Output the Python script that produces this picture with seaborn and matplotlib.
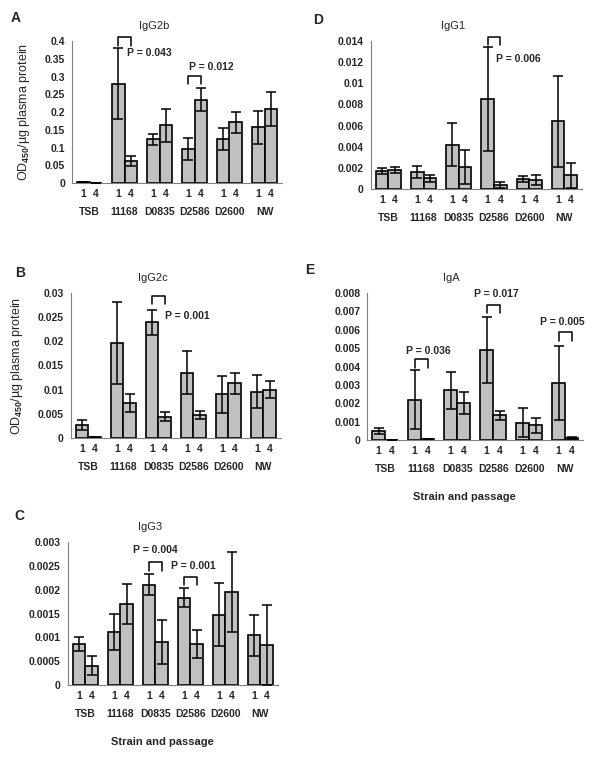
import matplotlib
matplotlib.use("Agg")
import matplotlib.pyplot as plt
import pandas as pd
import seaborn as sns
from matplotlib.ticker import MultipleLocator, FuncFormatter

sns.set_style("white")
plt.rcParams['font.family'] = ['Liberation Sans', 'DejaVu Sans']
plt.rcParams['font.weight'] = 'bold'
plt.rcParams['mathtext.fontset'] = 'custom'
plt.rcParams['mathtext.rm'] = 'Liberation Sans:bold'
plt.rcParams['mathtext.default'] = 'rm'

strains = ['TSB', '11168', 'D0835', 'D2586', 'D2600', 'NW']
passages = ['1', '4']

# IgG2b (A)
igg2b_p1 = [0.003, 0.28, 0.123, 0.097, 0.124, 0.157]
igg2b_p1_err = [0.001, 0.1, 0.016, 0.031, 0.03, 0.046]
igg2b_p4 = [0.001, 0.062, 0.163, 0.235, 0.171, 0.209]
igg2b_p4_err = [0.0, 0.014, 0.046, 0.032, 0.029, 0.047]

# IgG1 (D)
igg1_p1 = [0.0017, 0.0016, 0.0042, 0.0085, 0.00095, 0.0064]
igg1_p1_err = [0.0003, 0.00055, 0.002, 0.0049, 0.0003, 0.0043]
igg1_p4 = [0.0018, 0.001, 0.0021, 0.0004, 0.00085, 0.0013]
igg1_p4_err = [0.0003, 0.0003, 0.0016, 0.0003, 0.0005, 0.0012]

# IgG2c (B)
igg2c_p1 = [0.0027, 0.0196, 0.0239, 0.0135, 0.009, 0.0096]
igg2c_p1_err = [0.001, 0.0085, 0.0026, 0.0045, 0.0038, 0.0034]
igg2c_p4 = [0.0001, 0.0072, 0.0044, 0.0048, 0.0113, 0.01]
igg2c_p4_err = [0.0, 0.0018, 0.0009, 0.0008, 0.0022, 0.0017]

# IgA (E)
iga_p1 = [0.0005, 0.0022, 0.0027, 0.0049, 0.00095, 0.0031]
iga_p1_err = [0.00015, 0.0016, 0.001, 0.0018, 0.0008, 0.002]
iga_p4 = [0.0, 0.00005, 0.002, 0.00135, 0.0008, 0.0001]
iga_p4_err = [0.0, 0.0, 0.0006, 0.00025, 0.0004, 0.00005]

# IgG3 (C)
igg3_p1 = [0.00086, 0.00112, 0.0021, 0.00183, 0.00147, 0.00104]
igg3_p1_err = [0.00014, 0.00038, 0.00022, 0.0002, 0.00066, 0.00043]
igg3_p4 = [0.0004, 0.0017, 0.0009, 0.00086, 0.00196, 0.00084]
igg3_p4_err = [0.0002, 0.00042, 0.00046, 0.00029, 0.00084, 0.00084]

GREY = '#c0c0c0'
SPINE = '#808080'


def draw_panel(rect, letter, letter_pos, title, p1, p1e, p4, p4e, ymax, step,
               pvals, ylabel=False, xlabel=False):
    ax = fig.add_axes(rect)
    df = pd.DataFrame({
        'strain': strains * 2,
        'passage': ['1'] * 6 + ['4'] * 6,
        'value': p1 + p4,
    })
    sns.barplot(data=df, x='strain', y='value', hue='passage', order=strains,
                hue_order=passages, palette={'1': GREY, '4': GREY},
                errorbar=None, width=0.72, gap=0, edgecolor='black',
                linewidth=1.2, legend=False, ax=ax)

    centers = []
    for cont, vals, errs in zip(ax.containers, [p1, p4], [p1e, p4e]):
        xs = [b.get_x() + b.get_width() / 2 for b in cont]
        centers.append(xs)
        ax.errorbar(xs, vals, yerr=errs, fmt='none', ecolor='black',
                    elinewidth=1.1, capsize=3.5, capthick=1.1, zorder=3)

    ax.set_ylim(0, ymax)
    ax.set_xlim(-0.5, 5.5)
    ax.yaxis.set_major_locator(MultipleLocator(step))
    ax.yaxis.set_major_formatter(FuncFormatter(lambda v, p: '{:g}'.format(round(v, 6))))
    ax.tick_params(axis='y', length=3, color=SPINE, width=0.8, labelsize=7.5, pad=2)

    # passage labels under each bar, strain labels under each group
    minor_pos = sorted(centers[0] + centers[1])
    ax.set_xticks(range(len(strains)), strains)
    ax.set_xticks(minor_pos, passages * 6, minor=True)
    ax.tick_params(axis='x', which='both', length=0, labelsize=7.5)
    ax.tick_params(axis='x', which='major', pad=17)
    ax.tick_params(axis='x', which='minor', pad=4)

    for side in ['top', 'right']:
        ax.spines[side].set_visible(False)
    for side in ['left', 'bottom']:
        ax.spines[side].set_color(SPINE)
        ax.spines[side].set_linewidth(0.8)

    ax.set_xlabel('')
    ax.set_ylabel('')
    if ylabel:
        ax.set_ylabel(r'OD$_{450}$/µg plasma protein', fontsize=9, labelpad=9)
    if xlabel:
        ax.annotate('Strain and passage', xy=(0.45, 0), xycoords='axes fraction',
                    xytext=(0, -41), textcoords='offset points',
                    ha='center', va='center', fontsize=8)

    ax.annotate(title, xy=(0.39, 1), xycoords='axes fraction', xytext=(0, 11),
                textcoords='offset points', ha='center', va='center',
                fontsize=8, fontweight='normal')
    fig.text(letter_pos[0], letter_pos[1], letter, fontsize=10, ha='center', va='center')

    for idx, top, bottom, label, dx, ty, ha in pvals:
        x1 = centers[0][idx]
        x2 = centers[1][idx]
        ax.plot([x1, x1, x2, x2], [bottom, top, top, bottom], color='black',
                lw=1.1, clip_on=False)
        ax.text((x1 + x2) / 2 + dx, ty, label, ha=ha, va='center', fontsize=7.5)
    return ax


fig = plt.figure(figsize=(6, 7.67), dpi=100)

draw_panel([0.12, 0.7614, 0.35, 0.185], 'A', (0.026, 0.976), 'IgG2b',
           igg2b_p1, igg2b_p1_err, igg2b_p4, igg2b_p4_err, 0.4, 0.05,
           [(1, 0.411, 0.386, 'P = 0.043', 0.07, 0.366, 'left'),
            (3, 0.301, 0.279, 'P = 0.012', -0.16, 0.327, 'left')],
           ylabel=True)

draw_panel([0.618, 0.7536, 0.352, 0.193], 'D', (0.53, 0.974), 'IgG1',
           igg1_p1, igg1_p1_err, igg1_p4, igg1_p4_err, 0.014, 0.002,
           [(3, 0.01438, 0.0136, 'P = 0.006', 0.06, 0.0123, 'left')])

draw_panel([0.118, 0.429, 0.35, 0.189], 'B', (0.033, 0.644), 'IgG2c',
           igg2c_p1, igg2c_p1_err, igg2c_p4, igg2c_p4_err, 0.03, 0.005,
           [(2, 0.0294, 0.0277, 'P = 0.001', 0.2, 0.0252, 'left')],
           ylabel=True)

draw_panel([0.612, 0.4263, 0.36, 0.1917], 'E', (0.517, 0.648), 'IgA',
           iga_p1, iga_p1_err, iga_p4, iga_p4_err, 0.008, 0.001,
           [(1, 0.0044, 0.0039, 'P = 0.036', 0.2, 0.00484, 'center'),
            (3, 0.00734, 0.0069, 'P = 0.017', 0.08, 0.00794, 'center'),
            (5, 0.00588, 0.0054, 'P = 0.005', -0.08, 0.00642, 'center')],
           xlabel=True)

draw_panel([0.113, 0.1069, 0.35, 0.1864], 'C', (0.033, 0.327), 'IgG3',
           igg3_p1, igg3_p1_err, igg3_p4, igg3_p4_err, 0.003, 0.0005,
           [(2, 0.00258, 0.00239, 'P = 0.004', 0.0, 0.00283, 'center'),
            (3, 0.00227, 0.0021, 'P = 0.001', 0.08, 0.0025, 'center')],
           xlabel=True)

fig.savefig('out.png', dpi=100)
